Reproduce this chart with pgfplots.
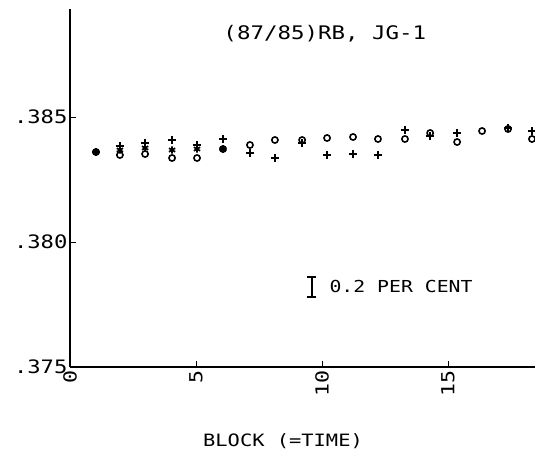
\documentclass[border=0pt]{standalone}
\usepackage{fontspec}
\newfontfamily\plotfont{DejaVu Sans Mono}[FakeStretch=1.2]
\usepackage{pgfplots}
\pgfplotsset{compat=1.18}
\begin{document}
\begin{tikzpicture}[x=1pt,y=1pt]
\begin{axis}[
  at={(70pt,89pt)}, anchor=south west,
  scale only axis, width=465pt, height=358pt,
  xmin=0, xmax=18.45, ymin=0.375, ymax=0.38932,
  axis lines=left, axis line style={-, line width=1.4pt},
  xtick={0,5,10,15}, xticklabels={0,5,10,15},
  ytick={0.375,0.380,0.385}, yticklabels={.375,.380,.385},
  tick align=inside, major tick length=6pt,
  tick style={line width=1pt, black},
  x tick label style={rotate=90, anchor=east, font=\plotfont\fontsize{18}{18}\selectfont},
  y tick label style={font=\plotfont\fontsize{18.5}{18.5}\selectfont, xshift=1pt},
  clip marker paths=true,
  scaled y ticks=false,
]
\addplot[only marks, mark=o, mark size=3.1pt, line width=1.6pt] coordinates {
(1.03,.3836) (1.98,.38348) (2.98,.38352) (4.05,.38336) (5.04,.38336) (6.07,.38372)
(7.14,.38388) (8.13,.38408) (9.21,.38408) (10.2,.38416) (11.23,.3842) (12.22,.38412)
(13.29,.38412) (14.29,.38436) (15.36,.384) (16.35,.38444) (17.38,.38452) (18.33,.38412)
};
\addplot[only marks, mark=+, mark size=4.2pt, line width=1.7pt] coordinates {
(1.03,.3836) (1.98,.38384) (2.98,.38396) (4.05,.38408) (5.04,.38388) (6.07,.38412)
(7.14,.38356) (8.13,.38336) (9.21,.38396) (10.2,.38348) (11.23,.38352) (12.22,.38348)
(13.29,.38448) (14.29,.38424) (15.36,.38436) (17.38,.38456) (18.33,.38444)
};
\addplot[only marks, mark=asterisk, mark size=3.6pt, line width=1.7pt] coordinates {
(1.03,.3836) (1.98,.38368) (2.98,.38376) (4.05,.38368) (5.04,.38372) (6.07,.38372)
};
\node[font=\plotfont\fontsize{18.7}{18.7}\selectfont] at (rel axis cs:0.548,0.93) {(87/85)RB, JG-1};
\draw[line width=1.4pt] (axis cs:9.6,0.3778) -- (axis cs:9.6,0.3786);
\draw[line width=1.4pt] ([xshift=-4.5pt]axis cs:9.6,0.3778) -- ([xshift=4.5pt]axis cs:9.6,0.3778);
\draw[line width=1.4pt] ([xshift=-4.5pt]axis cs:9.6,0.3786) -- ([xshift=4.5pt]axis cs:9.6,0.3786);
\node[anchor=west, font=\plotfont\fontsize{16.5}{16.5}\selectfont] at (rel axis cs:0.5505,0.2235) {0.2 PER CENT};
\end{axis}
\node[font=\plotfont\fontsize{17}{17}\selectfont] at (283,15) {BLOCK (=TIME)};
\pgfresetboundingbox
\path[use as bounding box] (0,0) rectangle (535,456);
\end{tikzpicture}
\end{document}
